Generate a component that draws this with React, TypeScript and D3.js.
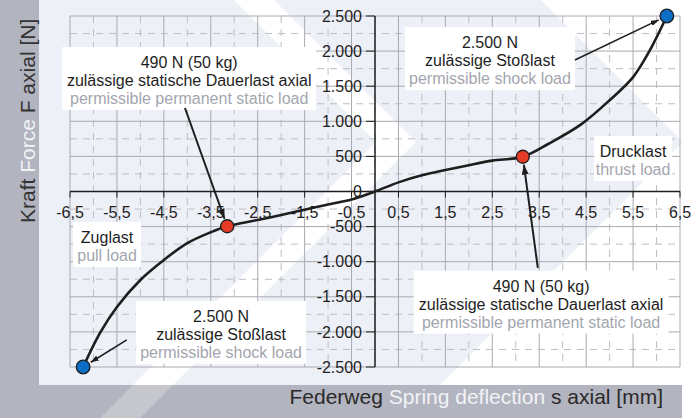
import { useEffect } from "react";
import * as d3 from "d3";

const W = 697;
const H = 418;

// spring curve: deflection s [mm] and force F [N]
const deflection = [-6.22, -5.86, -5.5, -5.0, -4.5, -4.0, -3.5, -3.15, -2.5, -2.0, -1.5, -1.0, -0.5, 0, 0.5, 1.0, 1.5, 2.0, 2.5, 3.15, 3.7, 4.4, 5.0, 5.5, 5.86, 6.22];
const force = [-2500, -2015, -1645, -1260, -975, -735, -580, -495, -405, -335, -260, -185, -115, 0, 130, 230, 305, 375, 440, 495, 680, 960, 1300, 1630, 2015, 2500];

const xMajor = [-6.5, -5.5, -4.5, -3.5, -2.5, -1.5, -0.5, 0.5, 1.5, 2.5, 3.5, 4.5, 5.5, 6.5];
const xLabels = ["-6,5", "-5,5", "-4,5", "-3,5", "-2,5", "-1,5", "-0,5", "0,5", "1,5", "2,5", "3,5", "4,5", "5,5", "6,5"];
const xMinor = [-6, -5, -4, -3, -2, -1, 0, 1, 2, 3, 4, 5, 6];
const yMajor = [2500, 2000, 1500, 1000, 500, 0, -500, -1000, -1500, -2000, -2500];
const yLabels = ["2.500", "2.000", "1.500", "1.000", "500", "0", "-500", "-1.000", "-1.500", "-2.000", "-2.500"];
const yMinor = [2250, 1750, 1250, 750, 250, -250, -750, -1250, -1750, -2250];

// marked points
const staticPoints = [
  { s: -3.15, F: -495 },
  { s: 3.15, F: 495 },
];
const shockPoints = [
  { s: -6.22, F: -2500 },
  { s: 6.22, F: 2500 },
];

const staticText = ["490 N (50 kg)", "zulässige statische Dauerlast axial", "permissible permanent static load"];
const shockText = ["2.500 N", "zulässige Stoßlast", "permissible shock load"];
const thrustText = ["Drucklast", "thrust load"];
const pullText = ["Zuglast", "pull load"];

const FONT = "'Liberation Sans', Arial, Helvetica, sans-serif";
const DARK = "#1e1e1e";
const GREY_TXT = "#a3a6ae";
const BAR = "#b2b4bf";
const BAR_LIGHT = "#c6c7cc";
const LAVENDER = "#eef0f8";

const x = d3.scaleLinear().domain([-6.5, 6.5]).range([70, 680]);
const y = d3.scaleLinear().domain([-2500, 2500]).range([367, 16]);

const Note = ({ s, F, lines, w, lh = 18 }) => {
  const cx = x(s);
  const by = y(F);
  const top = by - 21;
  const bottom = by + lh * (lines.length - 1) + 6;
  return (
    <g>
      <rect x={cx - w / 2} y={top} width={w} height={bottom - top} fill="#fff" />
      {lines.map((t, i) => (
        <text
          key={i}
          x={cx}
          y={by + i * lh}
          textAnchor="middle"
          fontSize={16}
          fill={i === lines.length - 1 ? GREY_TXT : DARK}
        >
          {t}
        </text>
      ))}
    </g>
  );
};

const Arrow = ({ from, to, gap, sw }) => {
  const x1 = x(from[0]);
  const y1 = y(from[1]);
  const x2 = x(to[0]);
  const y2 = y(to[1]);
  const len = Math.hypot(x2 - x1, y2 - y1);
  const k = (len - gap) / len;
  return (
    <line
      x1={x1}
      y1={y1}
      x2={x1 + (x2 - x1) * k}
      y2={y1 + (y2 - y1) * k}
      stroke={DARK}
      strokeWidth={sw}
      markerEnd="url(#ah)"
    />
  );
};

export default function App() {
  useEffect(() => {
    document.body.style.margin = "0";
  }, []);

  const curve = d3
    .line<number>()
    .x((d) => x(d))
    .y((_, i) => y(force[i]))
    .curve(d3.curveCatmullRom.alpha(0.5))(deflection);

  const stripe = "100,418 140,418 416,142 274,0 234,0 376,142";
  const rightGap = "541,0 697,0 697,418 407,418 683,142";

  return (
    <svg width={W} height={H} style={{ position: "absolute", left: 0, top: 0, fontFamily: FONT }}>
      <defs>
        <marker id="ah" viewBox="0 0 10 7" refX="10" refY="3.5" markerWidth="5" markerHeight="3.5" orient="auto">
          <path d="M0,0 L10,3.5 L0,7 z" fill={DARK} />
        </marker>
        <clipPath id="panel">
          <rect x={39} y={0} width={W - 39} height={385} />
        </clipPath>
        <clipPath id="bars">
          <path d={`M0,0 H39 V385 H682 V418 H0 Z`} />
        </clipPath>
      </defs>

      {/* background */}
      <rect width={W} height={H} fill="#fff" />
      <g clipPath="url(#panel)">
        <rect x={0} y={0} width={W} height={H} fill={LAVENDER} />
        <polygon points={stripe} fill="#fff" />
        <polygon points={rightGap} fill="#fff" />
      </g>
      <g clipPath="url(#bars)">
        <rect x={0} y={0} width={W} height={H} fill={BAR} />
        <polygon points={stripe} fill={BAR_LIGHT} />
      </g>

      {/* grid */}
      <g>
        {xMinor.map((d) => (
          <line key={"xm" + d} x1={x(d)} x2={x(d)} y1={y(2500)} y2={y(-2500)} stroke="#bdbec3" strokeDasharray="7,6" />
        ))}
        {yMinor.map((d) => (
          <line key={"ym" + d} x1={x(-6.5)} x2={x(6.5)} y1={y(d)} y2={y(d)} stroke="#bdbec3" strokeDasharray="7,6" />
        ))}
        {xMajor.map((d) => (
          <line key={"xM" + d} x1={x(d)} x2={x(d)} y1={y(2500)} y2={y(-2500)} stroke="#a9aab0" />
        ))}
        {yMajor.map((d) => (
          <line key={"yM" + d} x1={x(-6.5)} x2={x(6.5)} y1={y(d)} y2={y(d)} stroke="#a9aab0" />
        ))}
      </g>

      {/* annotation boxes + text */}
      <Note s={-3.96} F={1760} lines={staticText} w={254} />
      <Note s={3.54} F={-1427} lines={staticText} w={255} />
      <Note s={2.45} F={2043} lines={shockText} w={170} />
      <Note s={-3.28} F={-1858} lines={shockText} w={170} />
      <Note s={5.5} F={491} lines={thrustText} w={78} />
      <Note s={-5.71} F={-733} lines={pullText} w={68} />

      {/* axes */}
      <line x1={x(-6.5)} x2={x(6.5)} y1={y(0)} y2={y(0)} stroke={DARK} strokeWidth={1.5} />
      <line x1={x(0)} x2={x(0)} y1={y(2500)} y2={y(-2500)} stroke={DARK} strokeWidth={1.5} />
      {xMajor.map((d) => (
        <line key={"xt" + d} x1={x(d)} x2={x(d)} y1={y(0)} y2={y(0) + 6} stroke={DARK} />
      ))}
      {yMajor.map((d) => (
        <line key={"yt" + d} x1={x(0) - 9} x2={x(0)} y1={y(d)} y2={y(d)} stroke={DARK} />
      ))}
      {xMajor.map((d, i) => (
        <text key={"xl" + d} x={x(d)} y={y(0) + 26} textAnchor="middle" fontSize={16} fill={DARK}>
          {xLabels[i]}
        </text>
      ))}
      {yMajor.map((d, i) => (
        <text key={"yl" + d} x={x(0) - 13} y={y(d)} dy="0.35em" textAnchor="end" fontSize={16} fill={DARK}>
          {yLabels[i]}
        </text>
      ))}

      {/* arrows */}
      <Arrow from={[-4.05, 1189]} to={[staticPoints[0].s, staticPoints[0].F]} gap={8} sw={2} />
      <Arrow from={[3.47, -1089]} to={[staticPoints[1].s, staticPoints[1].F]} gap={8} sw={2} />
      <Arrow from={[4.26, 1872]} to={[shockPoints[1].s, shockPoints[1].F]} gap={9} sw={1.6} />
      <Arrow from={[-5.29, -2114]} to={[shockPoints[0].s, shockPoints[0].F]} gap={9} sw={1.6} />

      {/* curve */}
      <path d={curve ?? ""} fill="none" stroke={DARK} strokeWidth={2.6} />
      {staticPoints.map((p, i) => (
        <circle key={"sp" + i} cx={x(p.s)} cy={y(p.F)} r={6.5} fill="#e63b26" stroke={DARK} strokeWidth={1.3} />
      ))}
      {shockPoints.map((p, i) => (
        <circle key={"hp" + i} cx={x(p.s)} cy={y(p.F)} r={6.8} fill="#0b6ec4" stroke={DARK} strokeWidth={1.3} />
      ))}

      {/* axis titles */}
      <text transform="translate(35,223) rotate(-90)" fontSize={21} fill="#333">
        Kraft <tspan fill="#f2f3f7">Force</tspan> F axial [N]
      </text>
      <text x={663} y={404} textAnchor="end" fontSize={21} fill="#2a2a2a">
        Federweg <tspan fill="#f2f3f7">Spring deflection</tspan> s axial [mm]
      </text>
    </svg>
  );
}
